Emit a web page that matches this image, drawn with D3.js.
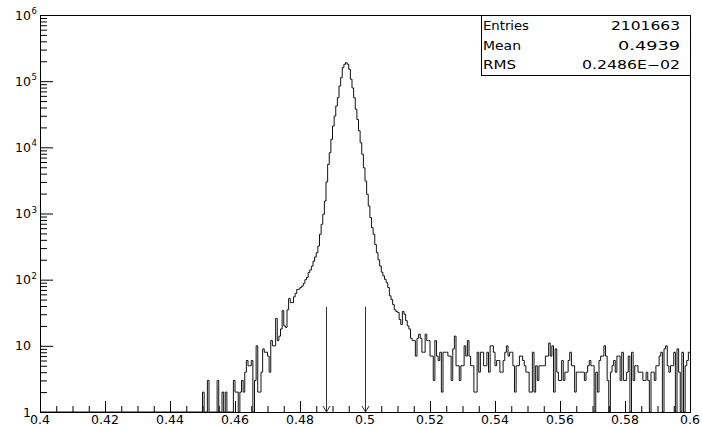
<!DOCTYPE html>
<html>
<head>
<meta charset="utf-8">
<script src="https://cdn.jsdelivr.net/npm/d3@7"></script>
<style>
    body { margin: 0; background: #fff; }
    svg text { font-family: "DejaVu Sans", sans-serif; fill: #000; }
</style>
</head>
<body>
<script>
// 400 bins of 0.0005 between 0.4 and 0.6, nothing filled below 0.45
var binWidth = 0.0005;
var firstBinLow = 0.45;

// bin contents, 0.450 - 0.480
var leftTailCounts = [
    2, 0, 0, 3, 0, 0, 0, 0, 0, 3,
    0, 0, 2, 0, 2, 0, 0, 0, 0, 3,
    2, 2, 0, 2, 3, 2, 4, 6, 5, 5,
    6, 0, 3, 10, 2, 2, 4, 9, 8, 8,
    7, 4, 12, 10, 10, 26, 12, 14, 18, 34,
    20, 19, 35, 52, 45, 45, 55, 62, 71, 72
];

// 0.480 - 0.509, the peak
var coreCounts = [
    76, 80, 88, 100, 108, 128, 140, 160, 190, 220,
    256, 323, 485, 687, 973, 1545, 3000, 5530, 8300, 13200,
    21000, 29700, 42200, 56400, 84500, 113000, 160000, 180000, 190000, 180000,
    151000, 107000, 79000, 56000, 37600, 26300, 17800, 11700, 7850, 4900,
    3090, 1950, 1300, 870, 612, 485, 340, 256, 200, 161,
    130, 114, 101, 90, 76, 57, 50, 42
];

// 0.509 - 0.600
var rightTailCounts = [
    35, 33, 32, 25, 21, 33, 30, 24, 20, 18,
    13, 12, 12, 7, 13, 15, 13, 8, 8, 15,
    12, 12, 7, 7, 3, 12, 7, 6, 8, 2,
    8, 8, 8, 7, 7, 3, 9, 14, 5, 5,
    3, 5, 5, 10, 7, 12, 7, 5, 5, 2,
    2, 8, 4, 8, 8, 5, 5, 8, 4, 10,
    10, 8, 5, 6, 6, 4, 4, 6, 8, 10,
    7, 8, 8, 5, 2, 5, 5, 7, 7, 6,
    5, 4, 4, 2, 2, 8, 2, 5, 3, 5,
    5, 5, 5, 7, 7, 11, 7, 10, 2, 9,
    4, 3, 3, 6, 3, 4, 4, 6, 8, 5,
    5, 2, 4, 4, 4, 4, 4, 3, 4, 5,
    6, 5, 5, 0, 4, 2, 6, 7, 7, 10,
    7, 3, 0, 4, 5, 6, 4, 7, 7, 3,
    8, 3, 3, 4, 7, 0, 8, 3, 5, 5,
    4, 4, 4, 3, 3, 4, 3, 0, 4, 4,
    3, 5, 5, 7, 8, 0, 9, 10, 5, 4,
    5, 5, 8, 0, 9, 4, 0, 8, 0, 5,
    6, 8
];

var xTickValues = [0.4, 0.42, 0.44, 0.46, 0.48, 0.5, 0.52, 0.54, 0.56, 0.58, 0.6];
var xTickLabels = ["0.4", "0.42", "0.44", "0.46", "0.48", "0.5", "0.52", "0.54", "0.56", "0.58", "0.6"];
var yTickValues = [1, 10, 1e2, 1e3, 1e4, 1e5, 1e6];
var yTickBase = ["1", "10", "10", "10", "10", "10", "10"];
var yTickExp = ["", "", "2", "3", "4", "5", "6"];

var statNames = ["Entries", "Mean", "RMS"];
var statValues = ["2101663", "0.4939", "0.2486E\u221202"];

// cut positions marked by arrows, arrow top given in counts
var cutValues = [0.488, 0.5];
var cutArrowTop = 39;

var width = 702,
    height = 430,
    frame = { left: 40, right: 690, top: 15, bottom: 412 };

var svg = d3.select("body")
    .append("svg")
    .attr("width", width)
    .attr("height", height);

var x = d3.scaleLinear().domain([0.4, 0.6]).range([frame.left, frame.right]);
var y = d3.scaleLog().domain([1, 1e6]).range([frame.bottom, frame.top]);

/**
 * tick marks only, no labels, no domain line
 */
function drawTicks(axis, transform) {
    svg.append("g")
        .attr("transform", transform)
        .call(axis.tickFormat(""))
        .call(function (g) { g.select(".domain").remove(); })
        .selectAll("line").attr("stroke", "#000");
}

// x ticks point up into the frame
var xMinor = d3.range(0, 41).map(function (i) { return 0.4 + i * 0.005; })
    .filter(function (v, i) { return i % 4 != 0; });
drawTicks(d3.axisTop(x).tickValues(xTickValues).tickSize(11), "translate(0," + frame.bottom + ")");
drawTicks(d3.axisTop(x).tickValues(xMinor).tickSize(6), "translate(0," + frame.bottom + ")");

// y ticks point right, decades long, 2..9 short
var yMinor = [];
yTickValues.slice(0, -1).forEach(function (d) {
    for (var k = 2; k < 10; k++) yMinor.push(d * k);
});
drawTicks(d3.axisRight(y).tickValues(yTickValues).tickSize(13), "translate(" + frame.left + ",0)");
drawTicks(d3.axisRight(y).tickValues(yMinor).tickSize(7), "translate(" + frame.left + ",0)");

// x labels
svg.append("g").selectAll("text")
    .data(xTickValues)
    .enter().append("text")
    .attr("x", function (d) { return x(d); })
    .attr("y", 424)
    .attr("text-anchor", "middle")
    .style("font-size", "12.5px")
    .text(function (d, i) { return xTickLabels[i]; });

// y labels, 10 with a raised exponent
var yLab = svg.append("g");
yLab.selectAll("text.base")
    .data(yTickValues)
    .enter().append("text")
    .attr("class", "base")
    .attr("x", 31)
    .attr("y", function (d) { return y(d) + 4.5; })
    .attr("text-anchor", "end")
    .style("font-size", "12.5px")
    .text(function (d, i) { return yTickBase[i]; });
yLab.selectAll("text.exp")
    .data(yTickValues)
    .enter().append("text")
    .attr("class", "exp")
    .attr("x", 31.5)
    .attr("y", function (d) { return y(d) - 1; })
    .style("font-size", "8.5px")
    .text(function (d, i) { return yTickExp[i]; });

// histogram outline, empty bins lie on the axis
var counts = leftTailCounts.concat(coreCounts, rightTailCounts);
var pts = [[0.4, 1], [firstBinLow, 1]];
counts.forEach(function (c, i) {
    var lo = firstBinLow + i * binWidth;
    var v = Math.max(c, 1);
    pts.push([lo, v], [lo + binWidth, v]);
});
var line = d3.line()
    .x(function (d) { return x(d[0]); })
    .y(function (d) { return y(d[1]); });
svg.append("path")
    .datum(pts)
    .attr("d", line)
    .attr("fill", "none")
    .attr("stroke", "#111")
    .attr("stroke-width", 1);

// cut arrows
cutValues.forEach(function (c) {
    var cx = Math.round(x(c)) + 0.5;
    svg.append("line")
        .attr("x1", cx).attr("x2", cx)
        .attr("y1", y(cutArrowTop)).attr("y2", y(1))
        .attr("stroke", "#333");
    svg.append("path")
        .attr("d", "M" + (cx - 3.5) + "," + (y(1) - 6) + "L" + cx + "," + y(1) + "L" + (cx + 3.5) + "," + (y(1) - 6))
        .attr("fill", "none")
        .attr("stroke", "#333");
});

// frame
svg.append("rect")
    .attr("x", frame.left + 0.5)
    .attr("y", frame.top + 0.5)
    .attr("width", frame.right - frame.left)
    .attr("height", frame.bottom - frame.top)
    .attr("fill", "none")
    .attr("stroke", "#000");

// stats box, three equal rows
var box = svg.append("g");
box.append("rect")
    .attr("x", 481.5)
    .attr("y", frame.top + 0.5)
    .attr("width", frame.right - 481)
    .attr("height", 60)
    .attr("fill", "#fff")
    .attr("stroke", "#000");
var valueWidths = [69, 62, 98];
statNames.forEach(function (name, i) {
    var by = 30 + i * 19.5;
    box.append("text")
        .attr("x", 483)
        .attr("y", by)
        .attr("textLength", 46)
        .attr("lengthAdjust", "spacingAndGlyphs")
        .style("font-size", "12px")
        .text(name)
        .attr("textLength", [46, 38, 33][i]);
    box.append("text")
        .attr("x", 680 - valueWidths[i])
        .attr("y", by)
        .attr("textLength", valueWidths[i])
        .attr("lengthAdjust", "spacingAndGlyphs")
        .style("font-size", "12px")
        .text(statValues[i]);
});
</script>
</body>
</html>
